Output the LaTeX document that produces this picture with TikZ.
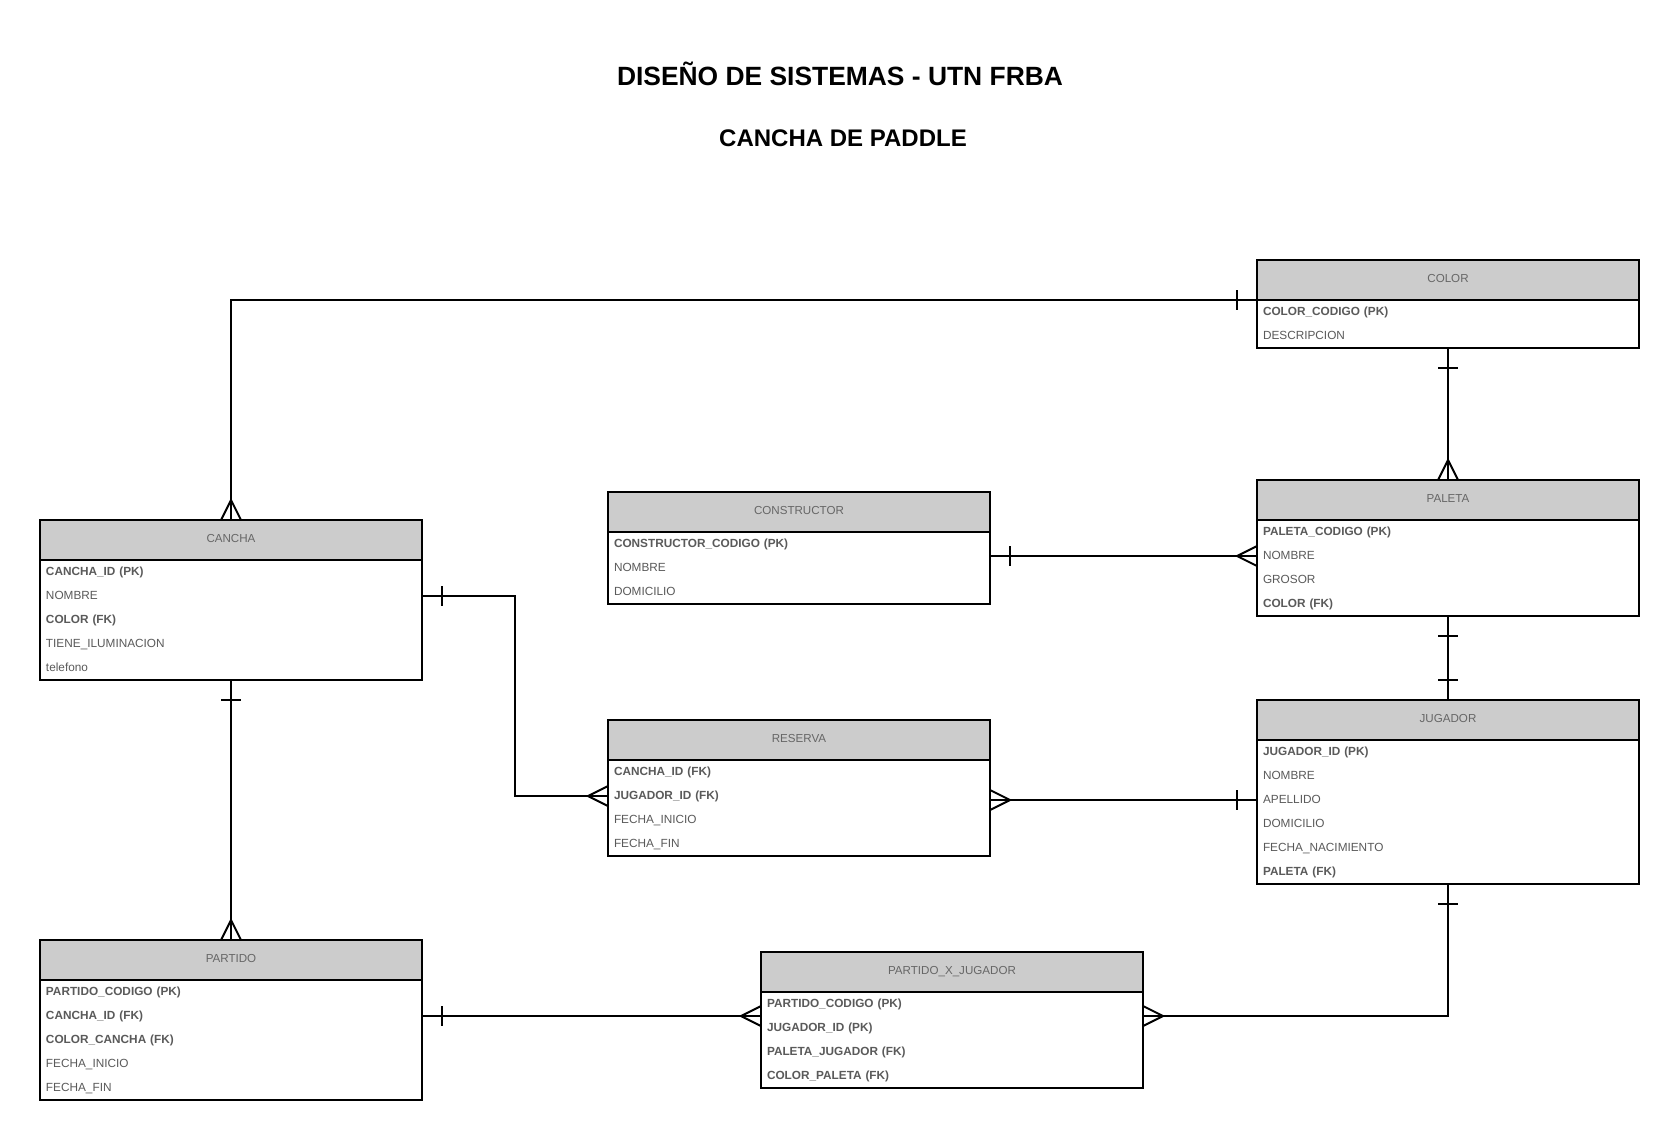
\documentclass[tikz,border=0pt]{standalone}
\usepackage{fontspec}
\setmainfont{Liberation Sans}
\usetikzlibrary{calc,fit}
\definecolor{hdrfill}{HTML}{CCCCCC}
\definecolor{hdrtext}{HTML}{666666}
\definecolor{rowcol}{HTML}{5A5A5A}
\tikzset{
  hdr/.style={draw, fill=hdrfill, line width=1pt, outer sep=0pt, inner sep=0pt,
    minimum width=191pt, minimum height=20pt, text=hdrtext,
    text height=4.3pt, text depth=2.1pt,
    font=\fontsize{5.8pt}{7pt}\selectfont},
  rowtext/.style={outer sep=0pt, inner xsep=3pt, inner ysep=0pt, text width=185pt,
    align=left, minimum height=12pt, text=rowcol,
    text height=4.5pt, text depth=1.3pt,
    font=\fontsize{5.9pt}{7pt}\selectfont},
  ebox/.style={draw, line width=1pt, inner sep=0pt, outer sep=0pt},
  conn/.style={draw, line width=1pt, black},
  crowL/.pic={\draw[conn] (-20,0) -- (0,-10) (-20,0) -- (0,10);},
  crowR/.pic={\draw[conn] (20,0) -- (0,-10) (20,0) -- (0,10);},
  crowU/.pic={\draw[conn] (0,-20) -- (-10,0) (0,-20) -- (10,0);},
  tickV/.pic={\draw[conn] (0,-10) -- (0,10);},
  tickH/.pic={\draw[conn] (-10,0) -- (10,0);},
  titletext/.style={font=\fontsize{13.2pt}{16pt}\selectfont\bfseries, text=black}
}
\newcommand{\erentity}[5]{%
  \node[hdr, anchor=north west] (#1-h) at (#2,#3) {#4};
  \foreach \r [count=\i] in {#5} {
    \node[rowtext, anchor=north west] (#1-\i) at ($(#1-h.south west)+(0,{24*(\i-1)})$) {\r};
    \xdef\erlast{\i}
  }
  \node[ebox, fit=(#1-h)(#1-\erlast)] (#1) {};
}
\begin{document}
\begin{tikzpicture}[x=0.5pt,y=-0.5pt]
\useasboundingbox (0,0) rectangle (1680,1140);
\fill[white] (0,0) rectangle (1680,1140);

\node[titletext] (title) at (840,74) {DISEÑO DE SISTEMAS - UTN FRBA};
\node[titletext, font=\fontsize{12pt}{15pt}\selectfont\bfseries] (subtitle) at (843,138) {CANCHA DE PADDLE};

\erentity{color}{1257}{260}{COLOR}{{\textbf{COLOR\_CODIGO (PK)}},{DESCRIPCION}}
\erentity{cancha}{40}{520}{CANCHA}{{\textbf{CANCHA\_ID (PK)}},{NOMBRE},{\textbf{COLOR (FK)}},{TIENE\_ILUMINACION},{telefono}}
\erentity{constructor}{608}{492}{CONSTRUCTOR}{{\textbf{CONSTRUCTOR\_CODIGO (PK)}},{NOMBRE},{DOMICILIO}}
\erentity{paleta}{1257}{480}{PALETA}{{\textbf{PALETA\_CODIGO (PK)}},{NOMBRE},{GROSOR},{\textbf{COLOR (FK)}}}
\erentity{reserva}{608}{720}{RESERVA}{{\textbf{CANCHA\_ID (FK)}},{\textbf{JUGADOR\_ID (FK)}},{FECHA\_INICIO},{FECHA\_FIN}}
\erentity{jugador}{1257}{700}{JUGADOR}{{\textbf{JUGADOR\_ID (PK)}},{NOMBRE},{APELLIDO},{DOMICILIO},{FECHA\_NACIMIENTO},{\textbf{PALETA (FK)}}}
\erentity{partido}{40}{940}{PARTIDO}{{\textbf{PARTIDO\_CODIGO (PK)}},{\textbf{CANCHA\_ID (FK)}},{\textbf{COLOR\_CANCHA (FK)}},{FECHA\_INICIO},{FECHA\_FIN}}
\erentity{pxj}{761}{952}{PARTIDO\_X\_JUGADOR}{{\textbf{PARTIDO\_CODIGO (PK)}},{\textbf{JUGADOR\_ID (PK)}},{\textbf{PALETA\_JUGADOR (FK)}},{\textbf{COLOR\_PALETA (FK)}}}

% COLOR - CANCHA
\draw[conn] (color-h.south west) -| (cancha.north);
\pic at ($(color-h.south west)+(-20,0)$) {tickV};
\pic at (cancha.north) {crowU};

% COLOR - PALETA
\draw[conn] (color.south) -- (paleta.north);
\pic at ($(color.south)+(0,20)$) {tickH};
\pic at (paleta.north) {crowU};

% CONSTRUCTOR - PALETA
\draw[conn] (constructor.east |- paleta-2.west) -- (paleta-2.west);
\pic at ($(constructor.east |- paleta-2.west)+(20,0)$) {tickV};
\pic at (paleta-2.west) {crowL};

% PALETA - JUGADOR
\draw[conn] (paleta.south) -- (jugador.north);
\pic at ($(paleta.south)+(0,20)$) {tickH};
\pic at ($(jugador.north)+(0,-20)$) {tickH};

% CANCHA - RESERVA
\coordinate (cr) at ($(cancha-2.east)!0.5!(reserva-2.west)$);
\draw[conn] (cancha-2.east) -| (cr) |- (reserva-2.west);
\pic at ($(cancha-2.east)+(20,0)$) {tickV};
\pic at (reserva-2.west) {crowL};

% RESERVA - JUGADOR
\draw[conn] (reserva.east |- jugador-3.west) -- (jugador-3.west);
\pic at (reserva.east |- jugador-3.west) {crowR};
\pic at ($(jugador-3.west)+(-20,0)$) {tickV};

% CANCHA - PARTIDO
\draw[conn] (cancha.south) -- (partido.north);
\pic at ($(cancha.south)+(0,20)$) {tickH};
\pic at (partido.north) {crowU};

% PARTIDO - PARTIDO_X_JUGADOR
\draw[conn] (partido-2.east) -- (pxj.west |- partido-2.east);
\pic at ($(partido-2.east)+(20,0)$) {tickV};
\pic at (pxj.west |- partido-2.east) {crowL};

% JUGADOR - PARTIDO_X_JUGADOR
\draw[conn] (jugador.south) |- (pxj.east |- partido-2.east);
\pic at ($(jugador.south)+(0,20)$) {tickH};
\pic at (pxj.east |- partido-2.east) {crowR};
\end{tikzpicture}
\end{document}
